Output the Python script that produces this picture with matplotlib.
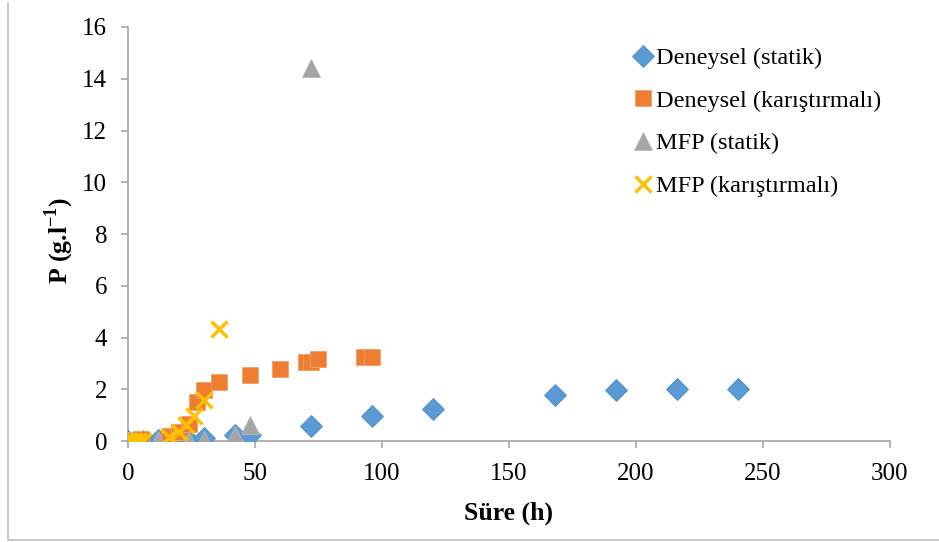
import matplotlib
matplotlib.use("Agg")
import matplotlib.pyplot as plt
from matplotlib.lines import Line2D

plt.rcParams['font.family'] = ['Liberation Serif', 'DejaVu Serif']
plt.rcParams['mathtext.fontset'] = 'custom'
plt.rcParams['mathtext.rm'] = 'Liberation Serif'
plt.rcParams['mathtext.bf'] = 'Liberation Serif:bold'

# Deneysel (statik)
ds_x = [0, 6, 12, 24, 30, 42, 48, 72, 96, 120, 168, 192, 216, 240]
ds_y = [0.0, 0.02, 0.03, 0.05, 0.1, 0.25, 0.23, 0.58, 0.95, 1.23, 1.78, 1.99, 2.02, 2.02]
# Deneysel (karıştırmalı)
dk_x = [0, 2, 5, 16, 20, 24, 27, 30, 36, 48, 60, 70, 72, 75, 93, 96]
dk_y = [0.03, 0.05, 0.08, 0.18, 0.35, 0.65, 1.52, 1.98, 2.3, 2.55, 2.8, 3.04, 3.04, 3.18, 3.23, 3.26]
# MFP (statik)
ms_x = [0, 12, 24, 30, 42, 48, 72]
ms_y = [0.0, 0.03, 0.02, 0.04, 0.25, 0.62, 14.4]
# MFP (karıştırmalı)
mk_x = [0, 2, 4, 6, 16, 20, 23, 26, 30, 36]
mk_y = [0.0, 0.0, 0.0, 0.02, 0.15, 0.35, 0.62, 0.96, 1.57, 4.33]

labels = ['Deneysel (statik)', 'Deneysel (karıştırmalı)', 'MFP (statik)', 'MFP (karıştırmalı)']
xticks = [0, 50, 100, 150, 200, 250, 300]
yticks = [0, 2, 4, 6, 8, 10, 12, 14, 16]

fig = plt.figure(figsize=(9.39, 5.42), dpi=100)
ax = fig.add_axes([0.1363, 0.1863, 0.8115, 0.7639])

ax.plot(ds_x, ds_y, linestyle='none', marker='D', markersize=11, color='#5B9BD5',
        markeredgecolor='#4A8BC9', markeredgewidth=0.6, label=labels[0], zorder=3)
ax.plot(dk_x, dk_y, linestyle='none', marker='s', markersize=11, color='#ED7D31',
        markeredgecolor='#F4A06B', markeredgewidth=0.6, label=labels[1], zorder=3)
ax.plot(ms_x, ms_y, linestyle='none', marker='^', markersize=13, color='#A5A5A5',
        markeredgecolor='#B8B8B8', markeredgewidth=0.6, label=labels[2], zorder=3)
ax.plot(mk_x, mk_y, linestyle='none', marker='x', markersize=12, color='#FFC000',
        markeredgewidth=2.5, label=labels[3], zorder=4)

ax.set_xlim(0, 300)
ax.set_ylim(0, 16)
ax.set_xticks(xticks)
ax.set_yticks(yticks)
for s in ['top', 'right']:
    ax.spines[s].set_visible(False)
for s in ['left', 'bottom']:
    ax.spines[s].set_color('#A6A6A6')
    ax.spines[s].set_linewidth(1.2)
ax.tick_params(axis='both', direction='out', length=5, width=1.2, color='#A6A6A6',
               labelsize=18)
ax.tick_params(axis='x', pad=11)
ax.tick_params(axis='y', pad=10)
ax.set_xlabel('Süre (h)', fontsize=18.5, fontweight='bold', labelpad=12)
ax.set_ylabel(r'P (g.l$^{\mathbf{-1}}$)', fontsize=18.5, fontweight='bold')
ax.yaxis.set_label_coords(-0.068, 0.485)

leg = ax.legend(loc='upper left', bbox_to_anchor=(0.645, 0.975), frameon=False, fontsize=17.5,
                handletextpad=0.0, labelspacing=0.85, handlelength=1.1, borderaxespad=0)

W, H = 939, 542
fig.add_artist(Line2D([8 / W, 8 / W], [1 - 3 / H, 1 - 540 / H], transform=fig.transFigure,
                      color='#BFBFBF', linewidth=1.2))
fig.add_artist(Line2D([8 / W, 1.0], [1 - 540 / H, 1 - 540 / H], transform=fig.transFigure,
                      color='#BFBFBF', linewidth=1.2))

fig.savefig('out.png', dpi=100)
